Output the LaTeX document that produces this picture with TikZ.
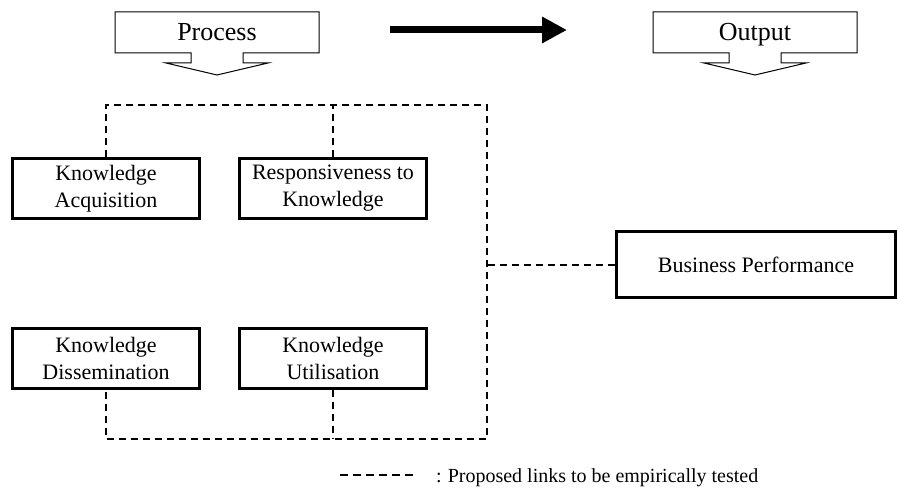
\documentclass[tikz,border=0pt]{standalone}
\usepackage{fontspec}
\setmainfont{Liberation Serif}
\usetikzlibrary{arrows.meta}

\begin{document}
\begin{tikzpicture}[x=1pt,y=-1pt,
    stage/.style={draw,line width=3pt,minimum width=187pt,minimum height=60pt,align=center,inner sep=0pt,font=\fontsize{22}{27}\selectfont},
    link/.style={line width=1.5pt,dash pattern=on 7pt off 5pt},
    headtxt/.style={font=\fontsize{26}{30}\selectfont,inner sep=0pt,anchor=base}]
                \useasboundingbox (0,0) rectangle (898,502);
                % Draw the two headings with their down arrows
                \foreach \cx/\nm/\txt in {217/proc/Process,755/outp/Output}{
                \node[headtxt] (\nm) at (\cx,41) {\txt};
                \draw[line width=1pt] (\cx-26,53) -- (\cx-102,53) -- (\cx-102,12) -- (\cx+102,12) -- (\cx+102,53) -- (\cx+26,53)
                    -- (\cx+26,63) -- (\cx+51,63) -- (\cx,75) -- (\cx-51,63) -- (\cx-26,63) -- cycle;
                }
                % Draw the thick arrow between them
                \coordinate (goS) at (390,30);
                \coordinate (goE) at (567,30);
                \draw[line width=7pt,-{Triangle[length=25pt,width=25pt]}] (goS) -- (goE);
                % Draw the four process boxes and the output box
                \node[stage] (acq) at (106,188.5) {Knowledge\\Acquisition};
                \node[stage] (resp) at (333,188.5) {Responsiveness to\\Knowledge};
                \node[stage] (diss) at (106,358.5) {Knowledge\\Dissemination};
                \node[stage] (util) at (333,358.5) {Knowledge\\Utilisation};
                \node[stage,minimum width=279pt,minimum height=66pt] (perf) at (756,265) {Business Performance};
                % Draw the dashed links
                \coordinate (hubT) at (487,105);
                \coordinate (hubB) at (487,439);
                \draw[link] (acq.north) |- (hubT) -- (hubB) -| (diss.south);
                \draw[link] (resp.north) -- (resp.north |- hubT);
                \draw[link] (util.south) -- (util.south |- hubB);
                \draw[link] (perf.west) -- (perf.west -| hubT);
                % Draw the legend
                \coordinate (keyA) at (340,475);
                \coordinate (keyB) at (413,475);
                \draw[link,dash pattern=on 8pt off 5pt] (keyA) -- (keyB);
                \node[anchor=base west,inner sep=0pt,font=\fontsize{20}{24}\selectfont] (key) at (436,483) {:\hspace{6pt}Proposed links to be empirically tested};
            \end{tikzpicture}
\end{document}
